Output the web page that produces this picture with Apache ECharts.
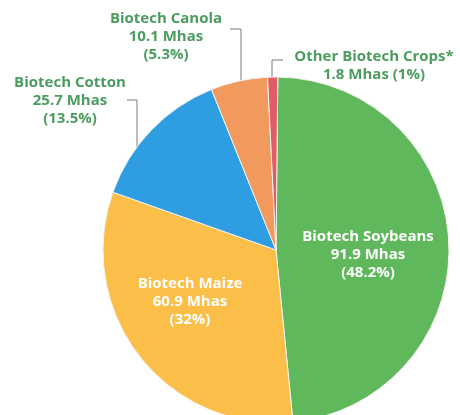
<!DOCTYPE html>
<html>
<head>
<meta charset="utf-8">
<script src="https://cdn.jsdelivr.net/npm/echarts@6/dist/echarts.min.js"></script>
<style>
  html, body { margin: 0; padding: 0; background: #fff; }
  #chart { width: 460px; height: 415px; }
</style>
</head>
<body>
<div id="chart"></div>
<script>
const crops = ["Biotech Soybeans", "Biotech Maize", "Biotech Cotton", "Biotech Canola", "Other Biotech Crops*"];
const areas = [91.9, 60.9, 25.7, 10.1, 1.8];
const shares = ["48.2%", "32%", "13.5%", "5.3%", "1%"];
const colors = ["#5fb85b", "#fbbe48", "#2f9de2", "#f29a5e", "#de5d66"];

const cx = 276;
const cy = 250;
const radius = 173;

// where each label sits, and for the outer ones: hook y, hook end x, and the x the leader drops at
const labelSpots = [
  { x: 368, y: 255 },
  { x: 190, y: 302 },
  { x: 70, y: 101, hookY: 100, hookX: 127, dropX: 137 },
  { x: 166, y: 37, hookY: 29, hookX: 230, dropX: 241 },
  { x: 374, y: 66, hookY: 60, hookX: 283, dropX: 272 },
];

const chart = echarts.init(document.getElementById("chart"), null, { renderer: "canvas" });

const data = crops.map((name, i) => {
  const inside = i < 2;
  return {
    name: name,
    value: areas[i],
    itemStyle: { color: colors[i] },
    label: {
      position: inside ? "inside" : "outside",
      color: inside ? "#ffffff" : "#4b9c5f",
      formatter: i == 4
        ? name + "\n" + areas[i] + " Mhas (" + shares[i] + ")"
        : name + "\n" + areas[i] + " Mhas\n(" + shares[i] + ")",
    },
    labelLine: { show: !inside },
  };
});

chart.setOption({
  backgroundColor: "#ffffff",
  animation: false,
  series: [
    {
      type: "pie",
      center: [cx, cy],
      radius: radius,
      startAngle: 89.4,
      clockwise: true,
      avoidLabelOverlap: false,
      itemStyle: { borderColor: "#f4f4ee", borderWidth: 1 },
      label: {
        fontFamily: "Open Sans",
        fontWeight: "bold",
        fontSize: 15,
        lineHeight: 18,
        align: "center",
      },
      labelLine: {
        lineStyle: { color: "#7a7a7a", width: 1 },
      },
      labelLayout: function (params) {
        const s = labelSpots[params.dataIndex];
        const out = { x: s.x, y: s.y, align: "center", verticalAlign: "middle" };
        if (s.hookY !== undefined) {
          const dx = s.dropX - cx;
          const edgeY = cy - Math.sqrt(radius * radius - dx * dx);
          out.labelLinePoints = [
            [s.dropX, edgeY],
            [s.dropX, s.hookY],
            [s.hookX, s.hookY],
          ];
        }
        return out;
      },
      data: data,
    },
  ],
});
</script>
</body>
</html>
